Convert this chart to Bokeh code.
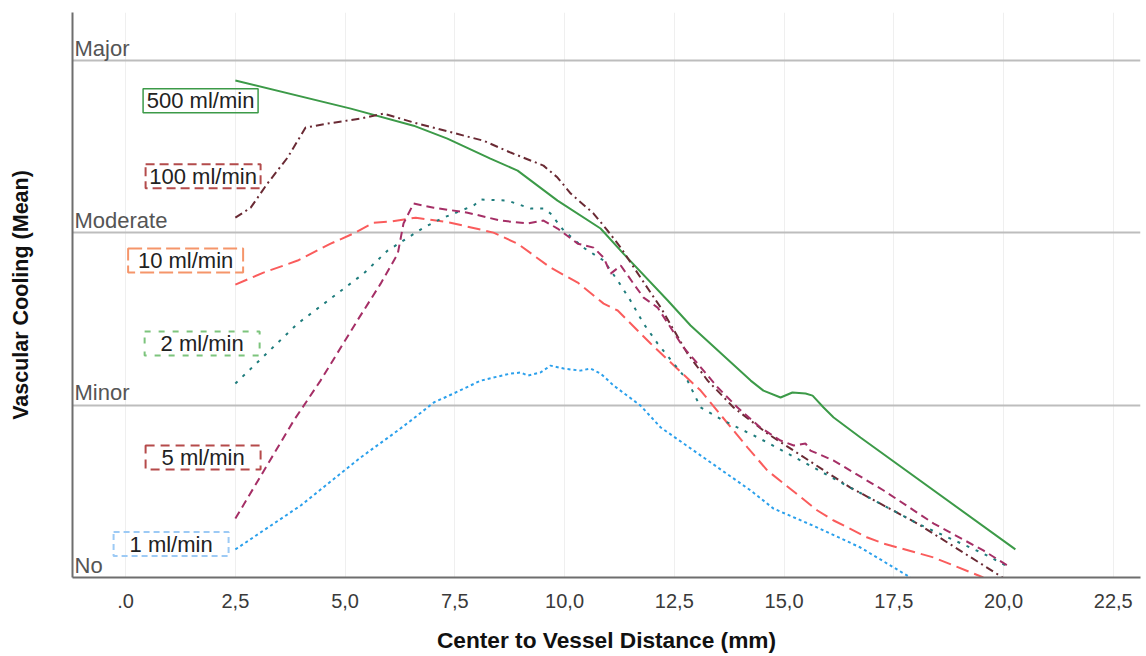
from bokeh.plotting import figure
from bokeh.models import Range1d, FixedTicker, Label
from bokeh.core.properties import value
from bokeh.embed import file_html
from bokeh.resources import INLINE

# ---------------- data ----------------
x_500 = [2.5, 5.13, 6.56, 7.33, 8.31, 8.93, 9.84, 10.82, 11.34, 12.35, 12.87, 14.24, 14.53,
         14.92, 15.19, 15.49, 15.65, 15.90, 16.13, 16.74, 20.27]
y_500 = [2.885, 2.722, 2.623, 2.548, 2.432, 2.362, 2.188, 2.026, 1.880, 1.608, 1.463, 1.143, 1.085,
         1.045, 1.074, 1.068, 1.056, 0.987, 0.929, 0.813, 0.163]

x_100 = [2.5, 2.85, 3.23, 3.69, 4.10, 4.60, 5.35, 5.88, 6.65, 8.15, 8.77, 9.52, 9.84, 10.14,
         10.66, 10.98, 11.28, 11.73, 12.19, 12.80, 13.26, 13.85, 14.62, 16.51, 18.04, 19.98]
y_100 = [2.089, 2.147, 2.287, 2.438, 2.612, 2.635, 2.664, 2.693, 2.635, 2.536, 2.467, 2.391, 2.322,
         2.229, 2.113, 2.014, 1.915, 1.741, 1.567, 1.300, 1.143, 0.987, 0.836, 0.522, 0.313, 0.0]

x_10 = [2.5, 3.14, 3.92, 4.67, 5.19, 5.65, 6.04, 6.61, 7.40, 8.38, 8.93, 9.68, 10.30, 10.89,
        11.21, 11.96, 13.10, 14.17, 14.62, 15.76, 16.13, 16.90, 17.27, 18.41, 19.54]
y_10 = [1.700, 1.770, 1.840, 1.938, 1.997, 2.060, 2.066, 2.089, 2.060, 2.002, 1.938, 1.799, 1.712,
        1.590, 1.550, 1.358, 1.085, 0.754, 0.621, 0.389, 0.331, 0.232, 0.197, 0.116, 0.0]

x_2 = [2.5, 3.92, 5.42, 5.97, 6.79, 7.24, 7.93, 8.09, 8.70, 9.23, 9.52, 9.68, 9.98, 10.43,
       10.89, 11.21, 11.50, 11.80, 12.12, 12.80, 13.10, 13.62, 14.40, 15.38, 16.51, 18.04, 19.54, 20.05]
y_2 = [1.126, 1.474, 1.764, 1.898, 2.031, 2.089, 2.159, 2.194, 2.188, 2.142, 2.142, 2.113, 2.014,
       1.915, 1.840, 1.724, 1.608, 1.474, 1.358, 1.143, 0.987, 0.911, 0.813, 0.679, 0.522, 0.313,
       0.139, 0.070]

x_5 = [2.5, 3.83, 4.44, 5.28, 5.81, 6.20, 6.33, 6.56, 7.02, 7.79, 8.54, 9.16, 9.52, 9.84, 10.30,
       10.66, 10.89, 11.05, 11.28, 11.57, 11.80, 12.12, 12.71, 13.03, 13.49, 13.94, 14.46, 14.92,
       15.22, 15.49, 15.60, 16.13, 17.27, 18.41, 19.54, 20.16]
y_5 = [0.342, 0.911, 1.143, 1.492, 1.706, 1.880, 2.055, 2.171, 2.147, 2.118, 2.072, 2.055, 2.072,
       2.026, 1.938, 1.915, 1.857, 1.764, 1.811, 1.706, 1.625, 1.567, 1.335, 1.242, 1.103, 0.987,
       0.871, 0.795, 0.766, 0.778, 0.737, 0.679, 0.505, 0.313, 0.157, 0.058]

x_1 = [2.5, 3.99, 5.35, 6.20, 6.56, 7.02, 7.47, 8.09, 8.77, 9.00, 9.16, 9.45, 9.68, 9.98, 10.36,
       10.59, 10.82, 11.12, 11.73, 12.19, 12.94, 14.24, 14.76, 15.76, 16.74, 17.88]
y_1 = [0.163, 0.418, 0.696, 0.853, 0.923, 1.016, 1.068, 1.143, 1.184, 1.190, 1.172, 1.190, 1.230,
       1.213, 1.201, 1.213, 1.184, 1.114, 0.998, 0.871, 0.737, 0.505, 0.400, 0.290, 0.174, 0.0]

series_names = ["500 ml/min", "100 ml/min", "10 ml/min", "2 ml/min", "5 ml/min", "1 ml/min"]
series_x = [x_500, x_100, x_10, x_2, x_5, x_1]
series_y = [y_500, y_100, y_10, y_2, y_5, y_1]

x_ticks = [0, 2.5, 5, 7.5, 10, 12.5, 15, 17.5, 20, 22.5]
x_tick_labels = [".0", "2,5", "5,0", "7,5", "10,0", "12,5", "15,0", "17,5", "20,0", "22,5"]
y_levels = [0, 1, 2, 3]
y_level_labels = ["No", "Minor", "Moderate", "Major"]

# ---------------- styles ----------------
line_colors = ["#3c9a48", "#6a2a34", "#fa5c5c", "#1e7c7c", "#a52f66", "#2ba0ec"]
line_dashes = ["solid", "8 4 2 4", "13 6", "3 7", "8 5", "3 3"]
box_colors = ["#3c9a48", "#b34b4b", "#f5956a", "#7cc47c", "#b54a4a", "#9ccaf5"]
box_dashes = ["solid", "9 5", "14 5", "6 8", "9 6", "6 4"]
box_widths = [1.5, 2, 2, 2, 2, 2]
# label box centres (data coords)
box_x = [1.708, 1.765, 1.367, 1.743, 1.765, 1.036]
box_y = [2.768, 2.330, 1.840, 1.358, 0.696, 0.194]

FONT = "Liberation Sans"

p = figure(width=1146, height=656, output_backend="svg", toolbar_location=None,
           x_range=Range1d(-1.21, 23.12), y_range=Range1d(0, 3.28))
p.min_border_left = 72
p.min_border_right = 6
p.min_border_top = 12
p.min_border_bottom = 79
p.outline_line_color = None
p.background_fill_color = "white"
p.border_fill_color = "white"

# grids
p.xgrid.ticker = FixedTicker(ticks=x_ticks)
p.xgrid.grid_line_color = "#efefef"
p.xgrid.grid_line_width = 1
p.ygrid.ticker = FixedTicker(ticks=[lv for lv in y_levels if lv > 0])
p.ygrid.grid_line_color = "#bdbdbd"
p.ygrid.grid_line_width = 2

# x axis
xa = p.xaxis[0]
xa.ticker = FixedTicker(ticks=x_ticks)
xa.major_label_overrides = {t: l for t, l in zip(x_ticks, x_tick_labels)}
xa.major_tick_out = 0
xa.major_tick_in = 0
xa.minor_tick_out = 0
xa.minor_tick_in = 0
xa.major_label_standoff = 16
xa.major_label_text_font = FONT
xa.major_label_text_font_size = "20px"
xa.major_label_text_color = "#3a3a3a"
xa.axis_line_color = "#6e6e6e"
xa.axis_line_width = 2
xa.axis_label = "Center to Vessel Distance (mm)"
xa.axis_label_text_font = FONT
xa.axis_label_text_font_style = "bold"
xa.axis_label_text_font_size = "22.7px"
xa.axis_label_text_color = "#111111"
xa.axis_label_standoff = 16

# y axis
ya = p.yaxis[0]
ya.ticker = FixedTicker(ticks=[])
ya.major_tick_out = 0
ya.major_tick_in = 0
ya.minor_tick_out = 0
ya.minor_tick_in = 0
ya.axis_line_color = "#6e6e6e"
ya.axis_line_width = 2
ya.axis_label = "Vascular Cooling (Mean)"
ya.axis_label_text_font = FONT
ya.axis_label_text_font_style = "bold"
ya.axis_label_text_font_size = "21.5px"
ya.axis_label_text_color = "#111111"
ya.axis_label_standoff = 40

# category level labels inside plot
for lv, txt in zip(y_levels, y_level_labels):
    p.add_layout(Label(x=-1.21, y=lv, text=txt, x_offset=2,
                       text_font=FONT, text_font_size="22px", text_color="#555555",
                       text_baseline="bottom", text_align="left"))

# series lines
for xs, ys, c, d in zip(series_x, series_y, line_colors, line_dashes):
    p.line(xs, ys, line_color=c, line_width=2, line_dash=d)

# label boxes
for name, bx, by, bc, bd, bw in zip(series_names, box_x, box_y, box_colors, box_dashes, box_widths):
    p.rect(x=[bx], y=[by], width=115, height=24, width_units="screen", height_units="screen",
           fill_color=None, line_color=bc, line_dash=bd, line_width=bw)
    p.text(x=[bx], y=[by], text=[name], text_align="center", text_baseline="middle",
           text_font=value(FONT), text_font_size="22px", text_color="#222222")

open("out.html", "w").write(file_html(p, INLINE))
